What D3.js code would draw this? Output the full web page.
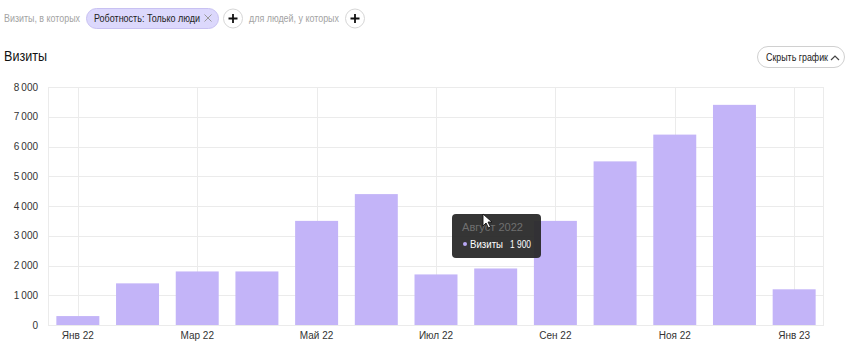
<!DOCTYPE html>
<html><head><meta charset="utf-8">
<script src="https://cdn.jsdelivr.net/npm/d3@7"></script>
<style>body{margin:0;background:#fff;font-family:Arial,"Liberation Sans",sans-serif}</style>
</head><body><svg id="c" width="847" height="362"></svg>
<script>
const months = ["Янв 22","Фев 22","Мар 22","Апр 22","Май 22","Июн 22","Июл 22","Авг 22","Сен 22","Окт 22","Ноя 22","Дек 22","Янв 23"];
const visits = [300,1400,1800,1800,3500,4400,1700,1900,3500,5500,6400,7400,1200];
const labeledMonths = ["Янв 22","Мар 22","Май 22","Июл 22","Сен 22","Ноя 22","Янв 23"];
const yTicks = [0,1000,2000,3000,4000,5000,6000,7000,8000];
const tooltipTitle = "Август 2022";
const tooltipSeries = "Визиты";
const tooltipValue = "1 900";

const svg = d3.select("#c");
const fmt = v => d3.format(",")(v).replace(/,/g, "\u2009");
function txt(xp, yp, size, color, s, len, weight){
  const t = svg.append("text").attr("x",xp).attr("y",yp).attr("font-size",size).attr("fill",color).text(s);
  if (len) t.attr("textLength",len).attr("lengthAdjust","spacingAndGlyphs");
  if (weight) t.attr("font-weight",weight);
  return t;
}

// header filter row
txt(4,22,11,"#a3a3a3","Визиты, в которых",76);
svg.append("rect").attr("x",86.5).attr("y",8.5).attr("width",132).attr("height",20).attr("rx",10)
  .attr("fill","#dcd8fc").attr("stroke","#c8c1f2");
txt(94,22,11,"#222","Роботность: Только люди",106);
svg.append("path").attr("d","M204.5,14.5L211.5,21.5M211.5,14.5L204.5,21.5").attr("stroke","#999").attr("stroke-width",1);
function plus(cx){
  svg.append("circle").attr("cx",cx).attr("cy",18.5).attr("r",9.5).attr("fill","#fff").attr("stroke","#d6d6d6");
  svg.append("path").attr("d",`M${cx-4.5},18.5H${cx+4.5}M${cx},14V23`).attr("stroke","#111").attr("stroke-width",1.8);
}
plus(233);
txt(249,22,11,"#a3a3a3","для людей, у которых",90);
plus(355);

// title
txt(4,61,14,"#111","Визиты",43,500);
// button
svg.append("rect").attr("x",757.5).attr("y",46.5).attr("width",87).attr("height",21).attr("rx",10.5)
  .attr("fill","#fff").attr("stroke","#d0d0d0");
txt(766,61,11,"#222","Скрыть график",62);
svg.append("path").attr("d","M831,60L835,56L839,60").attr("fill","none").attr("stroke","#444").attr("stroke-width",1.2);

// chart
const x = d3.scaleBand().domain(months).range([48,824]).paddingInner(0.28).paddingOuter(0.14);
const y = d3.scaleLinear().domain([0,8000]).range([325,87]);

const g = svg.append("g");
g.selectAll("line.h").data(yTicks).join("line")
  .attr("x1",48).attr("x2",824).attr("y1",d=>Math.round(y(d))+0.5).attr("y2",d=>Math.round(y(d))+0.5)
  .attr("stroke","#ebebeb");
g.selectAll("line.v").data(labeledMonths).join("line")
  .attr("x1",d=>Math.round(x(d)+x.bandwidth()/2)+0.5).attr("x2",d=>Math.round(x(d)+x.bandwidth()/2)+0.5)
  .attr("y1",87).attr("y2",325).attr("stroke","#ebebeb");
g.append("line").attr("x1",48.5).attr("x2",48.5).attr("y1",87).attr("y2",325).attr("stroke","#ebebeb");
g.append("line").attr("x1",823.5).attr("x2",823.5).attr("y1",87).attr("y2",325).attr("stroke","#ebebeb");

g.selectAll("rect.bar").data(months).join("rect")
  .attr("x",d=>x(d)).attr("width",x.bandwidth())
  .attr("y",(d,i)=>y(visits[i])).attr("height",(d,i)=>y(0)-y(visits[i]))
  .attr("fill","#c3b4f8");

const yAxis = d3.axisLeft(y).tickValues(yTicks).tickFormat(fmt).tickSize(0).tickPadding(10);
const ya = svg.append("g").attr("transform","translate(48,0)").call(yAxis);
ya.select(".domain").remove();
ya.selectAll("text").attr("font-size",10).attr("fill","#333").attr("font-family","Arial,'Liberation Sans',sans-serif");

const xAxis = d3.axisBottom(x).tickValues(labeledMonths).tickSize(0).tickPadding(7);
const xa = svg.append("g").attr("transform","translate(0,325)").call(xAxis);
xa.select(".domain").remove();
xa.selectAll("text").attr("font-size",10).attr("fill","#333").attr("font-family","Arial,'Liberation Sans',sans-serif");

// tooltip
const tt = svg.append("g").attr("transform","translate(452,214)");
tt.append("rect").attr("width",89).attr("height",44).attr("rx",4).attr("fill","#2a2a2a").attr("opacity",0.95);
tt.append("text").attr("x",10).attr("y",17).attr("font-size",10).attr("fill","#6f6f6f").text(tooltipTitle)
  .attr("textLength",61).attr("lengthAdjust","spacingAndGlyphs");
tt.append("circle").attr("cx",13).attr("cy",30).attr("r",2).attr("fill","#b9a8f5");
tt.append("text").attr("x",18).attr("y",34).attr("font-size",11).attr("fill","#fff").text(tooltipSeries)
  .attr("textLength",33).attr("lengthAdjust","spacingAndGlyphs");
tt.append("text").attr("x",79).attr("y",34).attr("font-size",11).attr("fill","#fff").attr("text-anchor","end").text(tooltipValue)
  .attr("textLength",21).attr("lengthAdjust","spacingAndGlyphs");
// cursor
svg.append("path").attr("d","M483,214L483,226L486,223L488.5,228L490.5,227L488,222L492,222Z")
  .attr("fill","#fff").attr("stroke","#111").attr("stroke-width",0.9);
</script></body></html>
